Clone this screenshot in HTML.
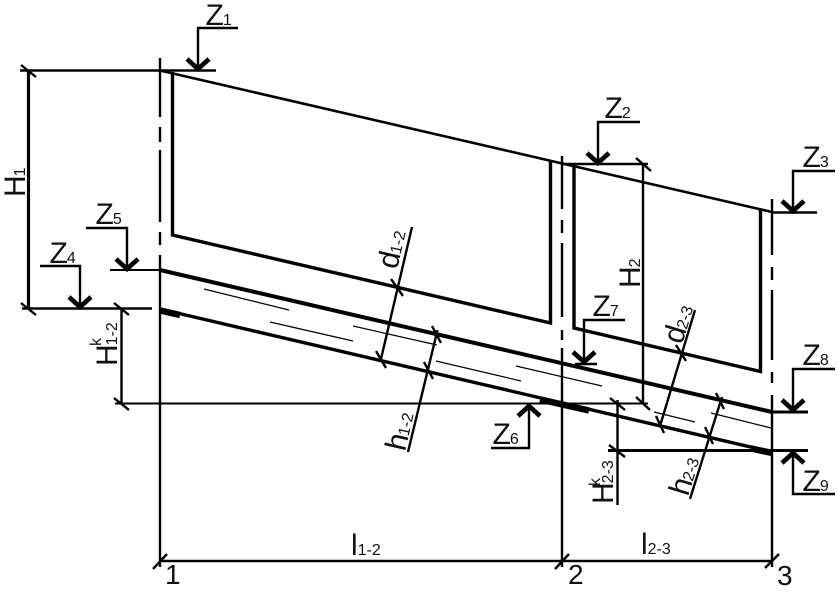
<!DOCTYPE html>
<html><head><meta charset="utf-8"><style>
html,body{margin:0;padding:0;background:#fff}
svg{display:block}
text{font-family:"Liberation Sans",sans-serif;font-size:30px;fill:#111}
.s{font-size:16px}
.n{font-size:28px}
</style></head><body>
<svg width="837" height="597" viewBox="0 0 837 597" xmlns="http://www.w3.org/2000/svg">
<rect width="837" height="597" fill="#fff"/>
<g fill="none" stroke="#000" stroke-linecap="butt">
<!-- axis lines -->
<g stroke-width="2.4">
<path d="M160 58V117M160 127V142M160 150V222M160 232V245M160 255V567"/>
<path d="M562 156V209M562 220V233M562 243V317M562 330V340M562 348V567"/>
<path d="M772 199V255M772 267V280M772 290V360M772 372V383M772 395V567"/>
</g>
<!-- sloped roof and walls -->
<path d="M160 70.5L772 212" stroke-width="2.6"/>
<path d="M172.5 72V235L550.5 323V160" stroke-width="3.4"/>
<path d="M574 166V328L760.5 371.5V209" stroke-width="3.4"/>
<!-- pipe -->
<path d="M160 270L772 412" stroke-width="4"/>
<path d="M160 309L772 452" stroke-width="3.4"/>
<path d="M160 310.5L180 315M540 399.5L589 410.5M751 448.5L772 453" stroke-width="6.5"/>
<!-- thin lines -->
<path d="M204 289L289 310M270 322L353 341M353 326L437 345M436 361L521 381M516 366L602 386M654 412L695 422M711 413L771 428" stroke-width="1.2"/>
<!-- levels -->
<path d="M20 70.5H216" stroke-width="2.4"/>
<path d="M28.5 70V308" stroke-width="3.2"/>
<path d="M22 308.5H152" stroke-width="2.4"/>
<path d="M121.5 308V403" stroke-width="2.4"/>
<path d="M115 403.5H648" stroke-width="2"/>
<path d="M110 270H160" stroke-width="2"/>
<path d="M562 164H648" stroke-width="2.4"/>
<path d="M643 164V403" stroke-width="2.4"/>
<path d="M772 212.5H817" stroke-width="2.4"/>
<path d="M575 364H597" stroke-width="2.4"/>
<path d="M772 412H808" stroke-width="3"/>
<path d="M608 450.5H808" stroke-width="3"/>
<path d="M617.5 400V505" stroke-width="2.4"/>
<path d="M160 561H772" stroke-width="2.4"/>
<!-- level markers -->
<g stroke-width="2.4">
<path d="M238 28H198V70"/>
<path d="M86 228H127V270"/>
<path d="M40 266H80V308"/>
<path d="M640 122H598V164"/>
<path d="M835 171H793V212"/>
<path d="M625 320H584V364"/>
<path d="M835 369H793V411"/>
<path d="M835 494H793V451"/>
<path d="M491 448H529V404"/>
</g>
<g stroke-width="4.6">
<path d="M187 59L198 69L209 59"/>
<path d="M116 259L127 269L138 259"/>
<path d="M69 297L80 307L91 297"/>
<path d="M587 153L598 163L609 153"/>
<path d="M782 201L793 211L804 201"/>
<path d="M573 352L584 362L595 352"/>
<path d="M782 400L793 410L804 400"/>
<path d="M782 463L793 453L804 463"/>
<path d="M518 416L529 406L540 416"/>
</g>
<!-- thickness dimensions -->
<g stroke-width="2.4">
<path d="M412 227L381 359"/>
<path d="M437.5 330L408 452"/>
<path d="M695 310L660 426"/>
<path d="M722 397L690 499"/>
</g>
<!-- ticks -->
<g stroke-width="2.4">
<path d="M21 65L36 77M21 303L36 315M114 303L129 315M114 398L129 410"/>
<path d="M636 158L651 171M636 397L650 410M610 398L625 410M609 445L625 457"/>
<path d="M391 279L403 296M376 351L386 368M432 326L441 343M424 362L433 379"/>
<path d="M676 345L686 361M656 416L664 433M716 393L724 409M705 427L713 444"/>
<path d="M153 569L167 554M555 569L569 554M765 568L779 554"/>
</g>
</g>
<!-- labels -->
<text x="205.500" y="25">Z<tspan class="s" dx="-1">1</tspan></text>
<text x="604.500" y="118">Z<tspan class="s" dx="-1">2</tspan></text>
<text x="802.500" y="167">Z<tspan class="s" dx="-1">3</tspan></text>
<text x="49.500" y="263">Z<tspan class="s" dx="-1">4</tspan></text>
<text x="95.500" y="224">Z<tspan class="s" dx="-1">5</tspan></text>
<text x="492.500" y="444">Z<tspan class="s" dx="-1">6</tspan></text>
<text x="592.500" y="316">Z<tspan class="s" dx="-1">7</tspan></text>
<text x="802.500" y="365">Z<tspan class="s" dx="-1">8</tspan></text>
<text x="802.500" y="491">Z<tspan class="s" dx="-1">9</tspan></text>
<text transform="translate(25 197) rotate(-90)">H<tspan class="s" dx="-1">1</tspan></text>
<text transform="translate(640 288) rotate(-90)">H<tspan class="s" dx="-1">2</tspan></text>
<text transform="translate(117 366) rotate(-90)">H<tspan class="s" dx="-1">1-2</tspan></text>
<text class="s" transform="translate(101 346) rotate(-90)">k</text>
<text transform="translate(613 504) rotate(-90)">H<tspan class="s" dx="-1">2-3</tspan></text>
<text class="s" transform="translate(600 486) rotate(-90)">k</text>
<text transform="translate(397 270) rotate(-77)">d<tspan class="s" dx="-1">1-2</tspan></text>
<text transform="translate(405 452) rotate(-77)">h<tspan class="s" dx="-1">1-2</tspan></text>
<text transform="translate(682 345) rotate(-73)">d<tspan class="s" dx="-1">2-3</tspan></text>
<text transform="translate(688 497) rotate(-73)">h<tspan class="s" dx="-1">2-3</tspan></text>
<text x="351" y="555">l<tspan class="s">1-2</tspan></text>
<text x="641" y="554">l<tspan class="s">2-3</tspan></text>
<text class="n" x="165" y="584">1</text>
<text class="n" x="568" y="584">2</text>
<text class="n" x="777" y="585">3</text>
</svg>
</body></html>
